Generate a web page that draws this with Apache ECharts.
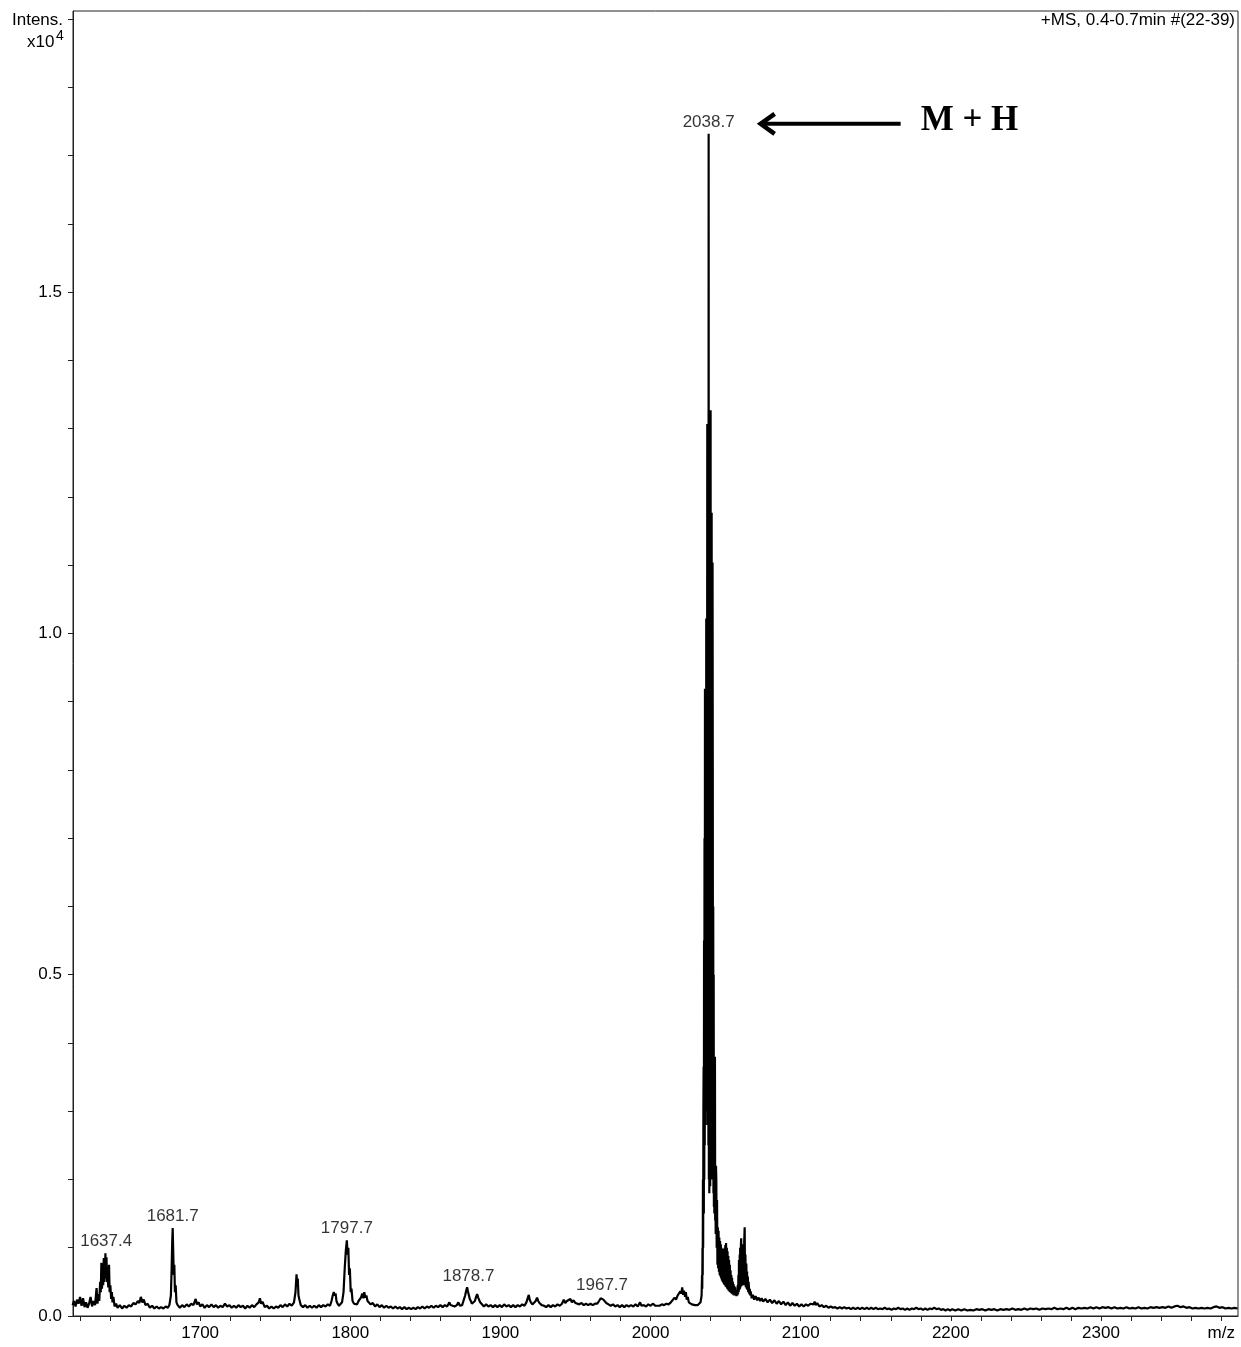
<!DOCTYPE html>
<html>
<head>
<meta charset="utf-8">
<script src="https://cdn.jsdelivr.net/npm/echarts@6/dist/echarts.min.js"></script>
<style>
html,body{margin:0;padding:0;background:#fff;}
#chart{width:1241px;height:1347px;}
</style>
</head>
<body>
<div id="chart"></div>
<script>
// Intensity in units of 10^4, m/z on x
const spectrumLow = [[1615,0.016],[1616,0.022],[1617,0.014],[1618,0.024],[1619,0.018],[1620,0.028],[1621,0.015],[1622,0.026],[1623,0.013],[1624,0.02],[1625,0.012],[1626,0.018],[1627,0.028],[1628,0.014],[1629,0.022],[1630,0.016],[1631,0.041],[1631.6,0.018],[1632.3,0.032],[1632.8,0.022],[1633.4,0.05],[1633.8,0.035],[1634.2,0.078],[1634.6,0.04],[1635,0.065],[1635.4,0.045],[1635.8,0.085],[1636.2,0.05],[1636.6,0.07],[1636.9,0.092],[1637.2,0.055],[1637.6,0.086],[1638,0.05],[1638.4,0.06],[1638.8,0.042],[1639.3,0.075],[1639.7,0.035],[1640.2,0.045],[1640.7,0.025],[1641.2,0.035],[1641.6,0.02],[1642.2,0.028],[1643,0.014],[1644,0.018],[1645,0.012],[1646.5,0.016],[1648,0.011],[1649.5,0.015],[1651,0.012],[1652.5,0.016],[1654,0.014],[1655.5,0.019],[1657,0.017],[1658.5,0.022],[1659.5,0.019],[1660.5,0.028],[1661.5,0.02],[1662.5,0.024],[1663.5,0.016],[1665,0.018],[1666.5,0.012],[1668,0.015],[1669.5,0.011],[1671,0.014],[1672.5,0.011],[1674,0.013],[1675.5,0.011],[1677,0.014],[1678.5,0.012],[1679.5,0.016],[1680.5,0.03],[1681,0.07],[1681.4,0.11],[1681.7,0.129],[1682,0.1],[1682.4,0.06],[1682.8,0.075],[1683.2,0.035],[1683.7,0.045],[1684.2,0.02],[1685,0.016],[1686.5,0.012],[1688,0.016],[1689.5,0.013],[1691,0.017],[1692.5,0.014],[1694,0.018],[1695.5,0.016],[1697,0.025],[1697.8,0.017],[1699,0.02]];
const spectrumMid1 = [[1700,0.014],[1701.5,0.017],[1703,0.012],[1704.5,0.016],[1706,0.013],[1707.5,0.017],[1709,0.013],[1710.5,0.016],[1712,0.012],[1713.5,0.015],[1715,0.013],[1716.5,0.018],[1718,0.014],[1719.5,0.016],[1721,0.012],[1722.5,0.015],[1724,0.012],[1725.5,0.016],[1727,0.013],[1728.5,0.015],[1730,0.011],[1731.5,0.015],[1733,0.012],[1734.5,0.016],[1736,0.013],[1737.5,0.017],[1739,0.02],[1739.8,0.026],[1740.6,0.018],[1741.5,0.021],[1743,0.013],[1744.5,0.015],[1746,0.011],[1747.5,0.014],[1749,0.011],[1750.5,0.014],[1752,0.012],[1753.5,0.016],[1755,0.013],[1756.5,0.017],[1758,0.014],[1759.5,0.018],[1761,0.015],[1762.5,0.02],[1763.5,0.035],[1764.2,0.061],[1764.6,0.045],[1765,0.055],[1765.5,0.03],[1766,0.025],[1767,0.016],[1768.5,0.013],[1770,0.016],[1771.5,0.012],[1773,0.015],[1774.5,0.012],[1776,0.015],[1777.5,0.012],[1779,0.016],[1780.5,0.013],[1782,0.016],[1783.5,0.014],[1785,0.017],[1786.5,0.015],[1787.5,0.022],[1788.3,0.03],[1789,0.035],[1789.6,0.03],[1790.2,0.033],[1790.8,0.022],[1791.5,0.018],[1792.5,0.015],[1793.5,0.017],[1794.5,0.02],[1795.5,0.035],[1796.3,0.07],[1797,0.095],[1797.7,0.111],[1798.2,0.09],[1798.7,0.1],[1799.2,0.06],[1799.7,0.07],[1800.3,0.035],[1800.8,0.04],[1801.5,0.022]];
const spectrumMid2 = [[1802.5,0.018],[1803.5,0.02],[1804.5,0.017],[1805.5,0.022],[1806.5,0.025],[1807.3,0.028],[1808,0.033],[1808.7,0.026],[1809.3,0.035],[1810,0.027],[1810.7,0.03],[1811.5,0.022],[1812.5,0.024],[1813.5,0.017],[1815,0.019],[1816.5,0.014],[1818,0.017],[1819.5,0.013],[1821,0.016],[1822.5,0.012],[1824,0.015],[1825.5,0.012],[1827,0.014],[1828.5,0.011],[1830,0.014],[1831.5,0.011],[1833,0.013],[1834.5,0.01],[1836,0.013],[1837.5,0.01],[1839,0.012],[1840.5,0.01],[1842,0.012],[1843.5,0.01],[1845,0.013],[1846.5,0.011],[1848,0.014],[1849.5,0.011],[1851,0.014],[1852.5,0.012],[1854,0.015],[1855.5,0.012],[1857,0.015],[1858.5,0.013],[1860,0.016],[1861.5,0.013],[1863,0.016],[1864.5,0.014],[1866,0.02],[1866.8,0.016],[1868,0.017],[1869.5,0.014],[1871,0.016],[1872,0.02],[1873,0.015],[1874.5,0.016],[1875.5,0.018],[1876.5,0.03],[1877.2,0.037],[1877.8,0.042],[1878.4,0.036],[1879,0.038],[1879.6,0.025],[1880.3,0.022],[1881,0.018],[1882,0.017],[1883,0.022],[1883.8,0.028],[1884.5,0.032],[1885.2,0.027],[1885.8,0.029],[1886.5,0.02],[1887.5,0.018],[1889,0.014],[1890.5,0.017],[1892,0.014],[1893.5,0.016],[1895,0.013],[1896.5,0.016],[1898,0.013],[1899.5,0.016]];
const spectrumMid3 = [[1901,0.013],[1902.5,0.017],[1904,0.014],[1905.5,0.016],[1907,0.013],[1908.5,0.016],[1910,0.013],[1911.5,0.016],[1913,0.014],[1914.5,0.017],[1916,0.015],[1917.3,0.02],[1918.3,0.027],[1918.9,0.031],[1919.5,0.024],[1920.3,0.02],[1921.3,0.017],[1922.5,0.018],[1923.5,0.022],[1924.4,0.027],[1925.2,0.022],[1926,0.019],[1927.5,0.016],[1929,0.015],[1930.5,0.013],[1932,0.016],[1933.5,0.013],[1935,0.016],[1936.5,0.014],[1938,0.017],[1939.5,0.015],[1941,0.018],[1942.2,0.024],[1943.2,0.019],[1944.3,0.022],[1945.5,0.02],[1946.6,0.025],[1947.6,0.02],[1948.7,0.023],[1950,0.019],[1951.2,0.021],[1952.5,0.017],[1954,0.019],[1955.5,0.016],[1957,0.018],[1958.5,0.016],[1960,0.018],[1961.5,0.016],[1963,0.018],[1964.5,0.018],[1965.7,0.022],[1966.8,0.026],[1967.8,0.028],[1968.6,0.024],[1969.5,0.025],[1970.5,0.019],[1972,0.017],[1973.5,0.015],[1975,0.017],[1976.5,0.014],[1978,0.016],[1979.5,0.013],[1981,0.016],[1982.5,0.013],[1984,0.016],[1985.5,0.014],[1987,0.016],[1988.5,0.014],[1990,0.017],[1991.5,0.014],[1993,0.02],[1994,0.015],[1995.5,0.016],[1997,0.014],[1998.5,0.017],[2000,0.015],[2001.5,0.018],[2002.3,0.02],[2003.3,0.015],[2004.5,0.017],[2006,0.015],[2007.5,0.017],[2009,0.016],[2010.5,0.018],[2012,0.017],[2013.5,0.02],[2014.8,0.022],[2016,0.027],[2017,0.024],[2018,0.03],[2019,0.028],[2019.8,0.036],[2020.5,0.033],[2021.1,0.042],[2021.7,0.031],[2022.3,0.037],[2023,0.028],[2023.5,0.035],[2024.1,0.024],[2024.8,0.028],[2025.5,0.02],[2026.5,0.022],[2027.5,0.017],[2028.5,0.019],[2029.5,0.016],[2030.5,0.018],[2031.5,0.016],[2032.5,0.018],[2033.3,0.02]];
const mainCluster = [[2034.0,0.03],[2034.3,0.06],[2034.45,0.04],[2034.6,0.1],[2034.75,0.06],[2034.9,0.2],[2035.05,0.1],[2035.2,0.3],[2035.35,0.365],[2035.5,0.15],[2035.65,0.55],[2035.8,0.2],[2035.95,0.7],[2036.1,0.25],[2036.25,0.919],[2036.4,0.3],[2036.55,0.82],[2036.7,0.28],[2036.85,0.86],[2037.0,0.3],[2037.1,1.022],[2037.25,0.32],[2037.4,0.84],[2037.55,0.3],[2037.7,0.9],[2037.8,1.307],[2037.95,0.3],[2038.1,0.88],[2038.25,0.28],[2038.4,1.0],[2038.55,0.25],[2038.7,1.732],[2038.85,0.2],[2039.0,0.9],[2039.15,0.18],[2039.3,1.05],[2039.45,0.2],[2039.6,0.88],[2039.75,0.19],[2039.9,0.92],[2040.0,1.327],[2040.15,0.2],[2040.3,0.86],[2040.45,0.2],[2040.6,0.9],[2040.7,1.177],[2040.85,0.2],[2041.0,0.84],[2041.15,0.2],[2041.3,1.104],[2041.45,0.795],[2041.6,0.2],[2041.75,0.6],[2041.9,0.18],[2042.05,0.5],[2042.2,0.16],[2042.35,0.3],[2042.5,0.15],[2042.7,0.25],[2042.9,0.38],[2043.05,0.14],[2043.2,0.2],[2043.4,0.12],[2043.6,0.22]];
const tailCluster = [[2043.8,0.2],[2044.05,0.1],[2044.3,0.17],[2044.55,0.075],[2044.8,0.13],[2045.05,0.07],[2045.3,0.125],[2045.55,0.065],[2045.8,0.115],[2046.05,0.06],[2046.3,0.11],[2046.55,0.058],[2046.8,0.105],[2047.05,0.055],[2047.3,0.1],[2047.55,0.052],[2047.8,0.097],[2048.05,0.05],[2048.3,0.095],[2048.55,0.048],[2048.8,0.098],[2049.05,0.046],[2049.3,0.1],[2049.55,0.045],[2049.8,0.104],[2050.05,0.043],[2050.3,0.107],[2050.55,0.042],[2050.8,0.1],[2051.05,0.04],[2051.3,0.095],[2051.55,0.039],[2051.8,0.088],[2052.05,0.037],[2052.3,0.082],[2052.55,0.036],[2052.8,0.075],[2053.05,0.035],[2053.3,0.067],[2053.55,0.034],[2053.8,0.06],[2054.05,0.033],[2054.3,0.056],[2054.55,0.032],[2054.8,0.05],[2055.05,0.031],[2055.3,0.047],[2055.55,0.03],[2055.8,0.044],[2056.05,0.03],[2056.3,0.042],[2056.6,0.03],[2056.9,0.038],[2057.2,0.029],[2057.5,0.036],[2057.8,0.03],[2058.05,0.045],[2058.3,0.032],[2058.55,0.06],[2058.75,0.035],[2058.9,0.082],[2059.15,0.038],[2059.4,0.09],[2059.6,0.04],[2059.7,0.1],[2059.95,0.042],[2060.2,0.105],[2060.4,0.114],[2060.65,0.044],[2060.9,0.095],[2061.15,0.045],[2061.4,0.1],[2061.6,0.045],[2061.85,0.105],[2062.1,0.046],[2062.4,0.11],[2062.7,0.13],[2062.95,0.045],[2063.2,0.09],[2063.45,0.042],[2063.8,0.077],[2064.05,0.04],[2064.3,0.065],[2064.55,0.038],[2064.8,0.058],[2065.05,0.035],[2065.3,0.05],[2065.6,0.048],[2065.85,0.032],[2066.1,0.04],[2066.4,0.03],[2066.7,0.036],[2067.4,0.026],[2068.2,0.031],[2069,0.024],[2070,0.029],[2071,0.023],[2072,0.027],[2073,0.022],[2074,0.026],[2075,0.021],[2076.5,0.025],[2078,0.02],[2079.5,0.024],[2081,0.019],[2082.5,0.023],[2084,0.018],[2085.5,0.022],[2087,0.017],[2088.5,0.021],[2090,0.016],[2091.5,0.02],[2093,0.015],[2094.5,0.019],[2096,0.015],[2097.5,0.018],[2099,0.014]];
const spectrumHigh = [[2100.5,0.017],[2102,0.014],[2103.5,0.017],[2105,0.015],[2106.5,0.018],[2107.5,0.02],[2108.5,0.017],[2109.3,0.021],[2110,0.016],[2111,0.019],[2112.5,0.014],[2114,0.016],[2115.5,0.013],[2117,0.015],[2118.5,0.012],[2120,0.014],[2121.5,0.012],[2123,0.013],[2124.5,0.011],[2126,0.013],[2127.5,0.011],[2129,0.013],[2130.5,0.011],[2132,0.012],[2133.5,0.01],[2135,0.012],[2136.5,0.01],[2138,0.012],[2139.5,0.01],[2141,0.012],[2142.5,0.01],[2144,0.012],[2145.5,0.01],[2147,0.012],[2148.5,0.01],[2150,0.012],[2151.5,0.01],[2153,0.011],[2154.5,0.01],[2156,0.012],[2157.5,0.01],[2159,0.011],[2160.5,0.009],[2162,0.011],[2163.5,0.01],[2165,0.012],[2166.5,0.01],[2168,0.011],[2169.5,0.009],[2171,0.011],[2172.5,0.009],[2174,0.011],[2175.5,0.01],[2177,0.012],[2178.5,0.01],[2180,0.011],[2181.5,0.009],[2183,0.011],[2184.5,0.009],[2186,0.011],[2187.5,0.01],[2189,0.012],[2190.5,0.01],[2192,0.011],[2193.5,0.009],[2195,0.01],[2196.5,0.008],[2198,0.01],[2199.5,0.008],[2201,0.01],[2203,0.008],[2205,0.01],[2207,0.008],[2209,0.01],[2211,0.008],[2213,0.009],[2215,0.008],[2217,0.01],[2219,0.009],[2221,0.01],[2223,0.008],[2225,0.01],[2227,0.009],[2229,0.01],[2231,0.008],[2233,0.01],[2235,0.009],[2237,0.01],[2239,0.009],[2241,0.011],[2243,0.009],[2245,0.01],[2247,0.009],[2249,0.011],[2251,0.009],[2253,0.011],[2255,0.01],[2257,0.011],[2259,0.009],[2261,0.011],[2263,0.01],[2265,0.011],[2267,0.01],[2269,0.012],[2271,0.01],[2273,0.011],[2275,0.01],[2277,0.012],[2279,0.01],[2281,0.012],[2283,0.01],[2285,0.012],[2287,0.011],[2289,0.012],[2291,0.011],[2293,0.013],[2295,0.011],[2297,0.013],[2299,0.011],[2301,0.013],[2303,0.012],[2305,0.013],[2307,0.011],[2309,0.013],[2311,0.011],[2313,0.012],[2315,0.011],[2317,0.013],[2319,0.011],[2321,0.012],[2323,0.011],[2325,0.013],[2327,0.011],[2329,0.012],[2331,0.011],[2333,0.013],[2335,0.012],[2337,0.013],[2339,0.012],[2341,0.013],[2343,0.012],[2345,0.014],[2347,0.012],[2349,0.014],[2351,0.015],[2353,0.013],[2355,0.014],[2357,0.012],[2359,0.013],[2361,0.011],[2363,0.012],[2365,0.011],[2367,0.012],[2369,0.011],[2371,0.012],[2373,0.011],[2375,0.013],[2377,0.014],[2379,0.012],[2381,0.013],[2383,0.011],[2385,0.012],[2387,0.011],[2389,0.012],[2391,0.011]];

const peakMz = [1637.4, 1681.7, 1797.7, 1878.7, 1967.7, 2038.7];
const peakIntensity = [0.092, 0.129, 0.111, 0.042, 0.028, 1.732];

const xTickValues = [1620,1640,1660,1680,1700,1720,1740,1760,1780,1800,1820,1840,1860,1880,1900,1920,1940,1960,1980,2000,2020,2040,2060,2080,2100,2120,2140,2160,2180,2200,2220,2240,2260,2280,2300,2320,2340,2360,2380];
const xLabelValues = [1700,1800,1900,2000,2100,2200,2300];
const yTickValues = [0,0.1,0.2,0.3,0.4,0.5,0.6,0.7,0.8,0.9,1.0,1.1,1.2,1.3,1.4,1.5,1.6,1.7,1.8,1.9];
const yLabelValues = [0,0.5,1.0,1.5];

const spectrum = [].concat(spectrumLow, spectrumMid1, spectrumMid2, spectrumMid3, mainCluster, tailCluster, spectrumHigh);
const peakPoints = peakMz.map((m, i) => [m, peakIntensity[i]]);

const FONT = '"Liberation Sans", Arial, sans-serif';
const chart = echarts.init(document.getElementById('chart'), null, {renderer: 'canvas'});

chart.setOption({
  animation: false,
  backgroundColor: '#fff',
  grid: {left: 73, right: 3, top: 11, bottom: 31, show: true, borderColor: '#222', borderWidth: 1},
  xAxis: {
    type: 'value', min: 1615.3, max: 2391.3,
    axisLine: {lineStyle: {color: '#222', width: 1}},
    axisTick: {show: true, inside: false, length: 5, customValues: xTickValues, lineStyle: {color: '#222'}},
    axisLabel: {customValues: xLabelValues, margin: 9, color: '#000', fontSize: 17, fontFamily: FONT,
      formatter: v => String(v)},
    splitLine: {show: false}
  },
  yAxis: {
    type: 'value', min: 0, max: 1.912,
    axisLine: {show: true, lineStyle: {color: '#222', width: 1}},
    axisTick: {show: true, inside: false, length: 5, customValues: yTickValues, lineStyle: {color: '#222'}},
    axisLabel: {customValues: yLabelValues, margin: 11, color: '#000', fontSize: 17, fontFamily: FONT,
      formatter: v => v.toFixed(1)},
    splitLine: {show: false}
  },
  series: [
    {
      type: 'line', data: spectrum, showSymbol: false, symbol: 'none',
      lineStyle: {color: '#000', width: 2.2, join: 'bevel'}, z: 2
    },
    {
      type: 'scatter', data: peakPoints, symbolSize: 0, silent: true, z: 3,
      label: {show: true, position: 'top', distance: 3, color: '#000', fontSize: 17, fontFamily: FONT,
        formatter: p => p.value[0].toFixed(1)}
    }
  ],
  graphic: [
    {id: 'intens', type: 'text', left: 12, top: 12, style: {text: 'Intens.', font: '17px ' + FONT, fill: '#000'}},
    {id: 'x10', type: 'text', left: 27, top: 34, style: {text: 'x10', font: '17px ' + FONT, fill: '#000'}},
    {id: 'x10sup', type: 'text', left: 56, top: 29, style: {text: '4', font: '14px ' + FONT, fill: '#000'}},
    {id: 'title', type: 'text', right: 6, top: 12, style: {text: '+MS, 0.4-0.7min #(22-39)', font: '17px ' + FONT, fill: '#000'}},
    {id: 'mz', type: 'text', right: 6, top: 1325, style: {text: 'm/z', font: '17px ' + FONT, fill: '#000'}}
  ]
});

// annotation arrow + "M + H" placed relative to the base peak
const tip = chart.convertToPixel({xAxisIndex: 0, yAxisIndex: 0}, [peakMz[5], peakIntensity[5]]);
const ax = tip[0] + 49, ay = tip[1] - 10;
chart.setOption({
  graphic: [
    {id: 'arrowLine', type: 'line', shape: {x1: ax + 6, y1: ay, x2: ax + 143, y2: ay}, style: {stroke: '#000', lineWidth: 4}},
    {id: 'arrowHead', type: 'polyline', shape: {points: [[ax + 17, ay - 10], [ax + 3, ay], [ax + 17, ay + 10]]}, style: {stroke: '#000', lineWidth: 4.5, fill: null, lineJoin: 'miter'}},
    {id: 'mh', type: 'text', left: ax + 163, top: ay - 20, style: {text: 'M + H', font: 'bold 35px "Liberation Serif", "Times New Roman", serif', fill: '#000'}}
  ]
});
</script>
</body>
</html>
